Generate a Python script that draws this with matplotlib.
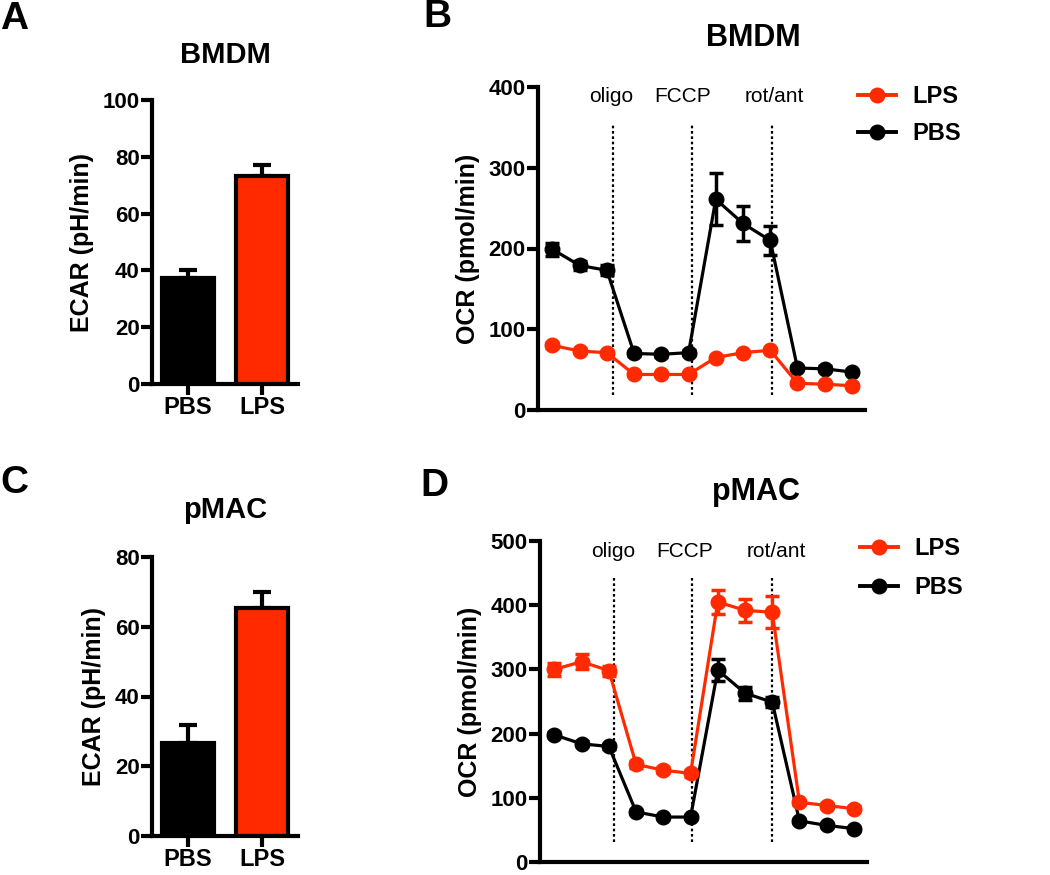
import numpy as np
import matplotlib
matplotlib.use("Agg")
import matplotlib.pyplot as plt
from matplotlib.lines import Line2D

plt.rcParams["font.family"] = ["Liberation Sans", "DejaVu Sans"]

RED = "#FF2A00"

# ---- bar panels (ECAR) ----
groups = ["PBS", "LPS"]
ecar_bmdm = [37.4, 73.2]
ecar_bmdm_err = [2.9, 3.9]
ecar_pmac = [26.7, 65.3]
ecar_pmac_err = [5.2, 4.8]

# ---- OCR time courses ----
steps = np.arange(1, 13)
ocr_bmdm_pbs = [199, 179, 173, 70, 69, 71, 261, 231, 210, 52, 51, 47]
ocr_bmdm_pbs_err = [8, 6, 6, 3, 3, 3, 32, 22, 18, 3, 3, 3]
ocr_bmdm_lps = [80, 73, 71, 44, 44, 44, 65, 71, 74, 33, 32, 30]
ocr_bmdm_lps_err = [3, 2, 2, 2, 2, 2, 2, 2, 2, 2, 2, 2]

ocr_pmac_pbs = [198, 184, 180, 78, 70, 70, 299, 263, 249, 64, 57, 52]
ocr_pmac_pbs_err = [4, 4, 4, 3, 3, 3, 17, 10, 8, 3, 3, 3]
ocr_pmac_lps = [300, 312, 298, 152, 143, 138, 405, 392, 389, 93, 88, 83]
ocr_pmac_lps_err = [10, 12, 8, 5, 5, 5, 18, 18, 25, 4, 4, 4]

injections = ["oligo", "FCCP", "rot/ant"]
inj_x_bmdm = [3.24, 6.12, 9.05]
inj_x_pmac = [3.19, 6.06, 8.98]
lab_x = [3.15, 5.78, 9.15]

fig = plt.figure(figsize=(10.5, 8.75), dpi=100)
SP = 3.0


def style(ax):
    for s in ["top", "right"]:
        ax.spines[s].set_visible(False)
    for s in ["left", "bottom"]:
        ax.spines[s].set_linewidth(SP)
    ax.tick_params(axis="y", length=8, width=SP, labelsize=16, pad=1)
    for lab in ax.get_yticklabels():
        lab.set_fontweight("bold")


def bar_panel(rect, vals, errs, ymax, title, letter, letter_xy, title_y):
    ax = fig.add_axes(rect)
    x = np.arange(len(groups))
    ax.bar(x, vals, width=0.7, color=["black", RED], edgecolor="black",
           linewidth=SP, zorder=2)
    ax.errorbar(x, vals, yerr=[[0, 0], errs], fmt="none", ecolor="black",
                elinewidth=SP, capsize=6.5, capthick=SP, zorder=1)
    ax.set_xlim(-0.486, 1.486)
    ax.set_ylim(0, ymax)
    ax.set_yticks(np.arange(0, ymax + 1, 20))
    ax.set_xticks(x)
    ax.set_xticklabels(groups, fontsize=17, fontweight="bold")
    ax.tick_params(axis="x", length=8, width=SP, pad=1)
    ax.set_ylabel("ECAR (pH/min)", fontsize=18, fontweight="bold", labelpad=6)
    style(ax)
    fig.text(225 / 1050, 1 - title_y / 875, title, fontsize=21,
             fontweight="bold", ha="center", va="center")
    fig.text(letter_xy[0] / 1050, 1 - letter_xy[1] / 875, letter,
             fontsize=28, fontweight="bold", ha="left", va="center")
    return ax


def ocr_panel(rect, pbs, pbs_err, lps, lps_err, ymax, inj_x, lab_y, vtop,
              vbot, title, title_xy, letter, letter_xy, leg_anchor, leg_sp):
    ax = fig.add_axes(rect)
    ax.vlines(inj_x, vbot, vtop, colors="black", linestyles=(0, (1.2, 1.2)),
              linewidth=1.6, zorder=1)
    ax.errorbar(steps, pbs, yerr=pbs_err, color="black", marker="o",
                markersize=10.5, linewidth=2.3, elinewidth=2.5, capsize=5,
                capthick=2.5, zorder=3)
    ax.errorbar(steps, lps, yerr=lps_err, color=RED, marker="o",
                markersize=10.5, linewidth=2.3, elinewidth=2.5, capsize=5,
                capthick=2.5, zorder=3)
    for name, xx in zip(injections, lab_x):
        ax.text(xx, lab_y, name, fontsize=15, ha="center", va="center")
    ax.set_xlim(0.47, 12.48)
    ax.set_ylim(0, ymax)
    ax.set_yticks(np.arange(0, ymax + 1, 100))
    ax.set_xticks([])
    ax.set_ylabel("OCR (pmol/min)", fontsize=18, fontweight="bold",
                  labelpad=6)
    style(ax)
    handles = [
        Line2D([], [], color=RED, marker="o", markersize=10.5, linewidth=2.8),
        Line2D([], [], color="black", marker="o", markersize=10.5, linewidth=2.8),
    ]
    ax.legend(handles, ["LPS", "PBS"], loc="upper left",
              bbox_to_anchor=leg_anchor, frameon=False, borderpad=0,
              borderaxespad=0, handlelength=1.6, handletextpad=0.7,
              labelspacing=leg_sp, prop={"size": 17, "weight": "bold"})
    fig.text(title_xy[0] / 1050, 1 - title_xy[1] / 875, title, fontsize=22,
             fontweight="bold", ha="center", va="center")
    fig.text(letter_xy[0] / 1050, 1 - letter_xy[1] / 875, letter,
             fontsize=28, fontweight="bold", ha="left", va="center")
    return ax


def px_rect(left, right, top, bottom):
    return [left / 1050, 1 - bottom / 875, (right - left) / 1050,
            (bottom - top) / 875]


bar_panel(px_rect(152, 298, 100, 384), ecar_bmdm, ecar_bmdm_err, 100,
          "BMDM", "A", (0, 19), 55)
bar_panel(px_rect(152, 298, 557, 836), ecar_pmac, ecar_pmac_err, 80,
          "pMAC", "C", (0, 483), 510)

ocr_panel(px_rect(538, 865, 87, 410), ocr_bmdm_pbs, ocr_bmdm_pbs_err,
          ocr_bmdm_lps, ocr_bmdm_lps_err, 400, inj_x_bmdm, 388, 355, 18,
          "BMDM", (753, 38), "B", (423, 17), (0.979, 1.006), 0.6)
ocr_panel(px_rect(540, 867, 541, 862), ocr_pmac_pbs, ocr_pmac_pbs_err,
          ocr_pmac_lps, ocr_pmac_lps_err, 500, inj_x_pmac, 484, 443, 31,
          "pMAC", (756, 492), "D", (420, 486), (0.979, 1.012), 0.68)

fig.savefig("out.png", dpi=100)
